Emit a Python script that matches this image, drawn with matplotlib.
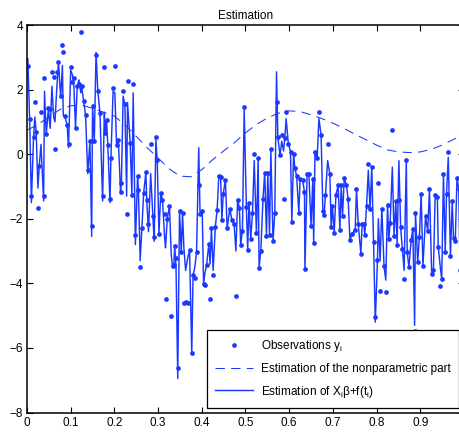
import numpy as np
import matplotlib.pyplot as plt

plt.rcParams['font.family'] = ['Liberation Sans', 'DejaVu Sans']
plt.rcParams['mathtext.fontset'] = 'custom'
plt.rcParams['mathtext.rm'] = 'Liberation Sans'
plt.rcParams['mathtext.it'] = 'Liberation Sans'

# design points t_i
t_obs = [0.002, 0.006, 0.010, 0.015, 0.018, 0.021, 0.025, 0.028, 0.032, 0.038,
         0.040, 0.044, 0.049, 0.053, 0.057, 0.061, 0.064, 0.068, 0.072, 0.077,
         0.081, 0.083, 0.087, 0.092, 0.095, 0.100, 0.104, 0.107, 0.111, 0.115,
         0.119, 0.123, 0.125, 0.130, 0.134, 0.139, 0.144, 0.148, 0.150, 0.154,
         0.158, 0.162, 0.167, 0.173, 0.177, 0.179, 0.182, 0.185, 0.190, 0.192,
         0.197, 0.201, 0.205, 0.209, 0.214, 0.216, 0.220, 0.224, 0.228, 0.230,
         0.236, 0.240, 0.243,
         0.248, 0.253, 0.255, 0.259, 0.263, 0.267, 0.272, 0.274, 0.278, 0.283,
         0.288, 0.291, 0.295, 0.298, 0.302, 0.306, 0.310, 0.315, 0.317, 0.321,
         0.326, 0.330, 0.333, 0.336, 0.338, 0.341, 0.345, 0.349, 0.353, 0.356,
         0.359, 0.363, 0.368, 0.372, 0.377, 0.380, 0.384, 0.388, 0.393, 0.396,
         0.401, 0.404, 0.407, 0.411, 0.416, 0.419, 0.422, 0.426, 0.431, 0.435,
         0.439, 0.443, 0.446, 0.449, 0.454, 0.458, 0.464, 0.469, 0.474, 0.478,
         0.482, 0.486,
         0.489, 0.493, 0.497, 0.502, 0.505, 0.508, 0.512, 0.516, 0.520, 0.525,
         0.529, 0.531, 0.535, 0.540, 0.544, 0.548, 0.551, 0.555, 0.558, 0.563,
         0.567, 0.571, 0.574, 0.579, 0.583, 0.587, 0.590, 0.593, 0.598, 0.603,
         0.606, 0.610, 0.613, 0.617, 0.622, 0.625, 0.631, 0.635, 0.636, 0.641,
         0.645, 0.650, 0.654, 0.656, 0.659, 0.664, 0.668, 0.673, 0.677, 0.680,
         0.683, 0.688, 0.693, 0.696, 0.699, 0.703, 0.707, 0.712, 0.716, 0.719,
         0.722, 0.726, 0.731, 0.735,
         0.739, 0.743, 0.751, 0.754, 0.758, 0.764, 0.767, 0.771, 0.773, 0.777,
         0.781, 0.785, 0.789, 0.793, 0.797, 0.802, 0.804, 0.808, 0.812, 0.817,
         0.821, 0.825, 0.828, 0.831, 0.836, 0.840, 0.844, 0.847, 0.851, 0.855,
         0.859, 0.863, 0.868, 0.870, 0.874, 0.879, 0.883, 0.887, 0.889, 0.894,
         0.898, 0.902, 0.906, 0.912, 0.917, 0.921, 0.926, 0.930, 0.934, 0.939,
         0.941, 0.945, 0.949, 0.953, 0.957, 0.960, 0.964, 0.969, 0.973, 0.976,
         0.980, 0.984, 0.988, 0.991]

# observations y_i
y_obs = [2.73, 1.10, -1.30, 0.54, 1.62, 0.69, -1.66, -0.37, 1.30, -1.29,
         2.35, 0.62, 1.43, 1.40, 2.55, 2.40, 0.15, 2.55, 2.86, 1.80,
         3.39, 3.15, 1.18, 0.89, 0.33, 2.70, 2.23, 2.35, 0.82, 2.10,
         2.16, 3.79, 2.12, 1.64, 1.21, -0.50, 0.40, -2.22, 1.50, 0.40,
         3.07, 1.97, 1.27, -1.29, 2.71, 0.66, 1.05, 0.27, -1.40, -0.11,
         2.04, 2.72, 0.27, 0.45, -1.16, -0.89, 1.97, 1.54, -1.85, 2.26,
         0.36, -1.25, 2.16,
         -2.51, -0.68, -1.12, -3.49, -2.28, -1.20, -0.56, -1.41, -2.16, 0.33,
         -1.93, -2.57, 0.52, -0.19, -2.47, -1.19, -1.43, -1.85, -4.50, -2.00,
         -1.60, -5.00, -3.47, -3.44, -2.84, -3.20, -6.62, -1.75, -3.04, -1.83,
         -4.60, -4.57, -4.60, -2.97, -6.17, -3.75, -3.84, -3.04, -0.94, -1.85,
         -1.77, -4.02, -4.04, -3.43, -2.79, -4.50, -2.30, -3.75, -2.24, -1.74,
         -0.67, -0.70, -2.03, -1.24, -0.79, -2.30, -1.69, -2.05, -2.16, -4.38,
         -1.41, -1.66,
         -2.80, -2.37, 1.47, -1.63, -2.98, -1.50, -2.62, -1.81, 0.02, -2.45,
         -0.13, -3.53, -3.00, -1.38, -0.58, -2.54, -0.58, -2.49, 0.16, -2.68,
         -1.82, 1.61, 0.52, -0.03, 0.60, -1.40, 0.49, 1.30, 0.33, 0.07,
         -2.10, 0.01, -0.44, -0.68, -1.81, -0.77, -0.81, -1.18, -3.56, -0.60,
         -0.60, -2.22, -0.77, -2.76, 0.08, -0.13, 1.32, 0.60, -1.76, -1.87,
         -1.26, 0.31, -0.62, -2.27, -1.61, -2.43, -1.26, -0.97, -2.34, -0.97,
         -1.90, -0.75, -0.97, -1.40,
         -2.67, -2.46, -2.36, -1.08, -2.16, -3.08, -2.16, -2.16, -2.51, -1.61,
         -0.29, -1.69, -0.41, -2.72, -5.04, -3.27, -0.88, -4.24, -1.69, -3.47,
         -4.28, -1.58, -2.63, -2.13, 0.74, -2.53, -1.46, -2.82, -1.43, -2.27,
         -2.95, -3.88, -0.18, -3.03, -3.50, -2.67, -2.31, -5.48, -1.81, -3.35,
         -2.55, -1.23, -3.47, -1.93, -2.39, -1.08, -3.70, -3.60, -1.27, -1.33,
         -2.86, -4.09, -3.88, -0.61, -3.03, -1.22, 0.06, -3.16, -1.46, -2.60,
         -2.69, -0.73, -1.09, -3.60]

# fitted values X_i beta + f(t_i)
y_fit = [2.95, 1.10, -1.50, 0.54, 1.15, 0.69, -1.05, -0.37, 0.30, -1.45,
         1.95, 0.62, 1.40, 0.80, 2.10, 1.15, 1.00, 2.00, 2.85, 1.75,
         2.75, 1.20, 1.15, 0.89, 0.20, 2.60, 2.45, 2.20, 0.82, 2.10,
         2.30, 1.90, 2.10, 1.60, 1.21, -0.60, 0.40, -2.55, 1.50, 0.40,
         3.15, 1.97, 1.27, -1.45, 1.30, 0.66, 1.05, 0.27, -1.50, -0.11,
         1.95, 1.90, 0.27, 0.45, -1.16, -0.89, 1.80, 1.54, -1.30, 1.60,
         0.36, -1.25, 1.90,
         -2.80, -0.68, -1.12, -3.30, -2.28, -1.20, -0.56, -1.41, -2.40, -0.60,
         -1.93, -2.70, 0.45, -0.19, -2.47, -1.19, -1.43, -2.60, -2.90, -2.00,
         -1.60, -3.10, -3.47, -3.44, -2.84, -3.50, -6.95, -1.75, -3.04, -1.83,
         -2.90, -3.60, -3.20, -2.97, -6.20, -3.75, -3.50, -3.04, 0.20, -1.85,
         -1.77, -4.02, -3.70, -3.43, -2.79, -3.40, -2.30, -3.60, -2.24, -1.74,
         -0.67, -0.70, -2.03, -1.24, -0.79, -2.30, -1.69, -2.05, -2.16, -3.00,
         -1.41, -1.66,
         -2.80, -2.37, 1.40, -1.63, -2.98, -1.50, -2.62, -1.81, -0.20, -2.45,
         -0.13, -3.50, -3.00, -1.38, -0.58, -2.54, -0.58, -2.49, 0.10, -2.68,
         -1.82, 2.55, 0.52, -0.03, 0.40, 0.10, 0.49, 1.10, 0.33, 0.07,
         -2.10, 0.01, -0.44, -0.68, -1.81, -0.77, -0.81, -1.18, -3.60, -0.60,
         -0.60, -2.22, -0.77, -2.76, 0.08, -0.13, 1.10, 0.60, -1.76, -1.87,
         -1.26, -0.20, -0.62, -2.27, -1.61, -2.43, -1.26, -0.97, -2.34, -0.97,
         -1.90, -0.75, -0.97, -1.40,
         -2.67, -2.46, -2.36, -1.08, -2.16, -3.08, -2.16, -2.16, -2.51, -1.61,
         -0.50, -1.69, -0.41, -2.72, -5.20, -3.27, -2.00, -3.30, -1.69, -3.47,
         -3.90, -1.58, -2.63, -2.13, -0.40, -2.53, -1.46, -2.82, -0.20, -2.27,
         -2.95, -3.60, -0.18, -3.03, -3.50, -2.67, -2.31, -5.30, -1.81, -3.35,
         -2.55, -1.23, -3.47, -1.93, -2.39, -1.08, -3.70, -3.60, -1.27, -1.33,
         -2.86, -3.40, -3.88, -0.61, -3.03, -1.22, -0.10, -3.16, -1.46, -2.60,
         -2.69, -0.73, -1.09, -3.60]

# nonparametric part f(t)
t_np = [0.000, 0.025, 0.050, 0.075, 0.100, 0.125, 0.150, 0.175, 0.200, 0.225,
        0.250, 0.275, 0.300, 0.325, 0.350, 0.375, 0.400, 0.425, 0.450, 0.475,
        0.500, 0.525, 0.550, 0.575, 0.600, 0.625, 0.650, 0.675, 0.700, 0.725,
        0.750, 0.775, 0.800, 0.825, 0.850, 0.875, 0.900, 0.925, 0.950, 0.975,
        1.000]
f_np = [0.74, 0.92, 1.15, 1.38, 1.50, 1.52, 1.42, 1.30, 1.18, 0.90,
        0.55, 0.20, -0.12, -0.45, -0.68, -0.70, -0.48, -0.17, 0.10, 0.36,
        0.66, 0.92, 1.12, 1.27, 1.34, 1.32, 1.22, 1.10, 0.96, 0.80,
        0.62, 0.45, 0.28, 0.13, 0.07, 0.05, 0.07, 0.15, 0.28, 0.45,
        0.62]

xticks = [0, 0.1, 0.2, 0.3, 0.4, 0.5, 0.6, 0.7, 0.8, 0.9]
xtick_labels = ['0', '0.1', '0.2', '0.3', '0.4', '0.5', '0.6', '0.7', '0.8', '0.9']
yticks = [-8, -6, -4, -2, 0, 2, 4]
ytick_labels = ['\u22128', '\u22126', '\u22124', '\u22122', '0', '2', '4']

assert len(t_obs) == len(y_obs) == len(y_fit)

blue = '#1a38ff'

fig = plt.figure(figsize=(4.6, 4.32), dpi=100)
# axes run slightly past the right border, like the cropped original
ax = fig.add_axes([27 / 460, 19.5 / 432, 437 / 460, 387.5 / 432])

ax.plot(t_obs, y_obs, 'o', color=blue, ms=3.4, mew=0, label='Observations y$_i$')
ax.plot(t_np, f_np, color=blue, lw=0.75, dashes=(9, 6),
        label='Estimation of the nonparametric part')
ax.plot(t_obs, y_fit, '-', color=blue, lw=1.05,
        label='Estimation of X$_i$\u03b2+f(t$_i$)')

ax.set_xlim(0, 1)
ax.set_ylim(-8, 4)
ax.set_xticks(xticks)
ax.set_xticklabels(xtick_labels)
ax.set_yticks(yticks)
ax.set_yticklabels(ytick_labels)
ax.tick_params(direction='in', top=True, right=True, length=4, width=0.8,
               labelsize=8.5, pad=3)
for sp in ax.spines.values():
    sp.set_linewidth(1.1)

ax.set_title('Estimation', fontsize=8.5, pad=4)

leg = ax.legend(loc='lower left', bbox_to_anchor=(0.412, 0.012), fontsize=8.5,
                fancybox=False, edgecolor='k', framealpha=1, borderaxespad=0,
                handlelength=3.2, handletextpad=0.7, labelspacing=0.75,
                borderpad=0.7)
leg.get_frame().set_linewidth(0.9)

fig.savefig('out.png', dpi=100)
